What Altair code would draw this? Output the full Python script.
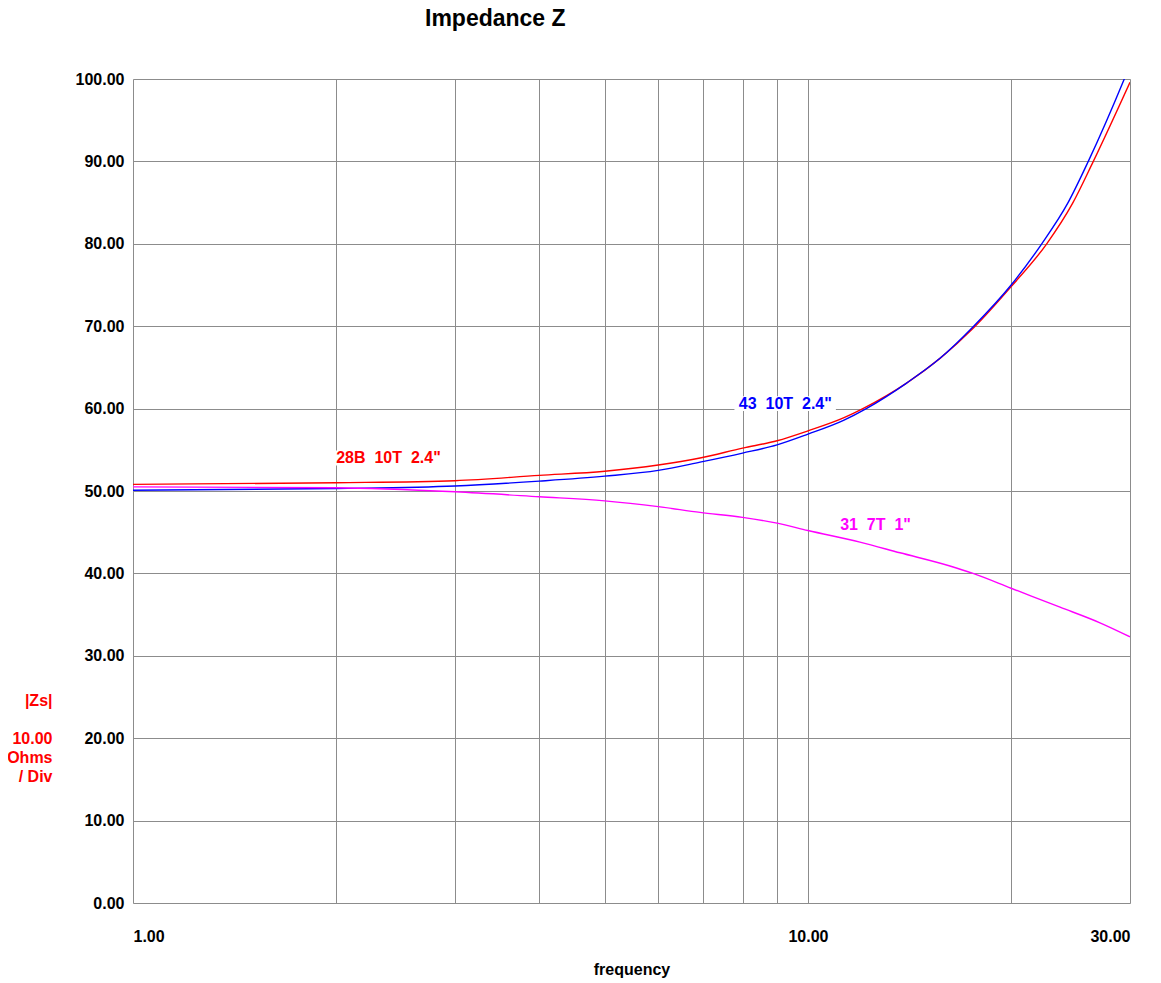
import altair as alt
import pandas as pd

# ---- data ----
freq_28b = [1, 2, 3, 4, 5, 6, 6.92, 8, 9, 10, 11.31, 12.06, 14.0, 15.69, 17.6, 20, 22.58, 24.66, 26.47, 30]
z_28b = [50.8, 51.0, 51.25, 51.9, 52.4, 53.15, 54.0, 55.2, 56.1, 57.3, 58.9, 60.0, 63.1, 66.1, 69.8, 74.8, 80.0, 84.9, 90.0, 99.6]

freq_43 = [1, 2, 3, 4, 5, 6, 6.92, 8, 9, 10, 11.31, 12.2, 14.0, 15.69, 17.6, 20, 22.2, 24.25, 26.02, 29.42, 30]
z_43 = [50.1, 50.3, 50.6, 51.2, 51.8, 52.5, 53.5, 54.6, 55.6, 56.9, 58.6, 60.0, 63.1, 66.1, 70.0, 75.0, 80.0, 84.9, 90.0, 100.0, 101.7]

freq_31 = [1, 2, 3, 4, 5, 6, 6.92, 8, 9, 10, 11.94, 13.69, 16.23, 17.56, 20, 23.63, 27.08, 30]
z_31 = [50.5, 50.4, 49.9, 49.3, 48.8, 48.1, 47.4, 46.8, 46.1, 45.2, 43.8, 42.5, 40.9, 40.0, 38.2, 35.9, 34.0, 32.3]

series_names = ["28B", "43", "31"]
series_colors = ["#ff0000", "#0000ff", "#ff00ff"]

label_texts = ["28B\u00a0 10T\u00a0 2.4\"", "43\u00a0 10T\u00a0 2.4\"", "31\u00a0 7T\u00a0 1\""]
label_freq = [2.0, 7.9, 11.16]
label_end_freq = [2.92, 11.0, 14.17]
label_z = [54.0, 60.6, 45.9]

x_grid_values = [1, 2, 3, 4, 5, 6, 7, 8, 9, 10, 20, 30]
y_values = [0, 10, 20, 30, 40, 50, 60, 70, 80, 90, 100]

rows = []
for name, fs, zs in [("28B", freq_28b, z_28b), ("43", freq_43, z_43), ("31", freq_31, z_31)]:
    for i, (f, z) in enumerate(zip(fs, zs)):
        rows.append({"series": name, "f": f, "z": z, "order": i})
df = pd.DataFrame(rows)

labels = pd.DataFrame({"series": series_names, "text": label_texts, "f": label_freq,
                       "f_end": label_end_freq, "z": label_z})

FONT = "Liberation Sans"

xscale = alt.Scale(type="log", domain=[1, 30], nice=False)
yscale = alt.Scale(domain=[0, 100], nice=False, zero=False)
color = alt.Color("series:N", scale=alt.Scale(domain=series_names, range=series_colors), legend=None)

xaxis = alt.Axis(
    values=x_grid_values,
    labelExpr="(datum.value == 1 || datum.value == 10 || datum.value == 30) ? format(datum.value, '.2f') : ''",
    grid=True, gridColor="#8c8c8c", gridWidth=1, gridOpacity=1,
    ticks=False, domain=False,
    labelFont=FONT, labelFontSize=16, labelFontWeight="bold", labelColor="black",
    labelPadding=25, labelOverlap=False,
    title="frequency", titleFont=FONT, titleFontSize=16, titleFontWeight="bold",
    titleColor="black", titlePadding=17,
)
yaxis = alt.Axis(
    values=y_values, format=".2f",
    grid=True, gridColor="#8c8c8c", gridWidth=1, gridOpacity=1,
    ticks=False, domain=False,
    labelFont=FONT, labelFontSize=16, labelFontWeight="bold", labelColor="black",
    labelPadding=9,
    title=["|Zs|", "\u200b", "10.00", "Ohms", "/ Div"],
    titleFont=FONT, titleFontSize=16, titleFontWeight="bold", titleColor="#ff0000",
    titleAngle=0, titleAlign="right", titleBaseline="top",
    titleX=-81, titleY=613, titleLineHeight=19,
)

lines = alt.Chart(df).mark_line(strokeWidth=1.4, clip=True, interpolate="monotone").encode(
    x=alt.X("f:Q", scale=xscale, axis=xaxis),
    y=alt.Y("z:Q", scale=yscale, axis=yaxis),
    color=color,
    order="order:Q",
)

boxes = alt.Chart(labels).transform_calculate(
    f0="datum.f * 0.985", z0="datum.z - 0.9", z1="datum.z + 0.9"
).mark_rect(color="white").encode(
    x=alt.X("f0:Q", scale=xscale), x2="f_end:Q",
    y=alt.Y("z0:Q", scale=yscale), y2="z1:Q",
)

texts = alt.Chart(labels).mark_text(
    align="left", baseline="middle", font=FONT, fontSize=16, fontWeight="bold",
).encode(x=alt.X("f:Q", scale=xscale), y=alt.Y("z:Q", scale=yscale), text="text:N", color=color)

chart = alt.layer(lines, boxes, texts).properties(
    width=997, height=824,
    title=alt.TitleParams(
        "Impedance Z", anchor="start", frame="group", dx=292, offset=40,
        font=FONT, fontSize=23, fontWeight="bold", color="black",
    ),
    padding={"left": 125, "top": 71, "right": 23, "bottom": 80},
    autosize=alt.AutoSizeParams(type="none"),
).configure_view(stroke="black", strokeWidth=3).configure(background="white")

chart.save("out.html", embed_options={"renderer": "svg", "actions": False})
